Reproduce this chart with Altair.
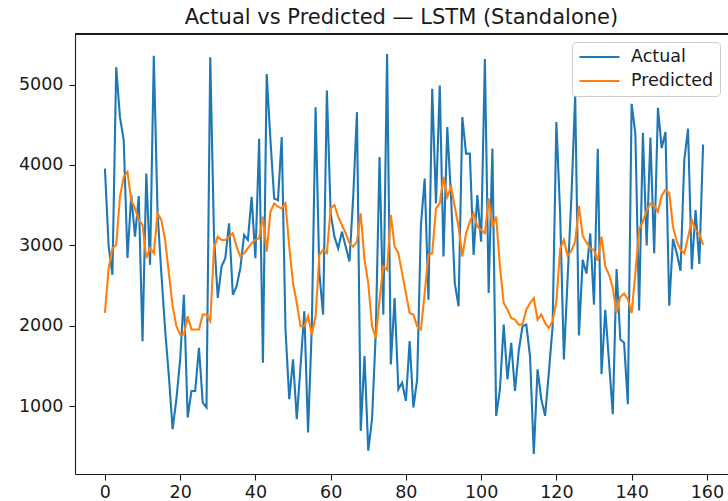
import altair as alt
import pandas as pd

title_text = "Actual vs Predicted — LSTM (Standalone)"
series_names = ["Actual", "Predicted"]

actual = [
    3956, 2985, 2635, 5214, 4595, 4306, 2845, 3625, 3109, 3613,
    1809, 3894, 2758, 5359, 3398, 2655, 1954, 1376, 715, 1087,
    1582, 2387, 860, 1190, 1190, 1727, 1046, 984, 5339, 3109,
    2346, 2738, 2841, 3275, 2387, 2490, 2717, 3130, 3068, 3604,
    2841, 4327, 1541, 5132, 4307, 3584, 3563, 4348, 1954, 1087,
    1582, 839, 1500, 2180, 674, 1994, 4719, 2655, 2139, 4926,
    3398, 3109, 2965, 3171, 2985, 2800, 3604, 4657, 694, 1623,
    447, 839, 1912, 4100, 2139, 5380, 1520, 2346, 1211, 1293,
    1067, 1809, 984, 1334, 3254, 3832, 2325, 4947, 3522, 4988,
    2862, 4472, 3604, 2531, 2242, 4595, 4141, 4141, 2882, 3625,
    3047, 5318, 2408, 4203, 880, 1211, 2015, 1334, 1789, 1190,
    1690, 1994, 2015, 1623, 406, 1458, 1087, 880, 1417, 1994,
    4533, 3400, 1582, 2600, 3600, 4860, 1880, 2820, 2650, 3151,
    2263, 4203, 1400, 2200, 1550, 901, 2705, 1830, 1789, 1025,
    4761, 4390, 2190, 4400, 3000, 4340, 2903, 4710, 4210, 4410,
    2250, 3080, 2903, 2685, 4059, 4451, 2705, 3440, 2770, 4255,
]

predicted = [
    2160, 2717, 2965, 3006, 3604, 3852, 3914, 3563, 3460, 3316,
    3254, 2841, 2965, 2903, 3398, 3316, 3068, 2655, 2242, 1994,
    1892, 1892, 2118, 1954, 1954, 1954, 2139, 2139, 2057, 2965,
    3109, 3068, 3068, 3109, 3151, 2985, 2862, 2903, 2965, 3027,
    3068, 3089, 3357, 2923, 3419, 3522, 3481, 3460, 3522, 2985,
    2531, 2284, 1994, 1994, 2118, 1892, 2118, 2882, 2944, 2903,
    3460, 3502, 3357, 3254, 3151, 3027, 2985, 3047, 3398, 2820,
    2531, 1994, 1850, 2325, 2738, 2697, 3378, 2985, 2903, 2655,
    2408, 2160, 2139, 1994, 1954, 2408, 2882, 2903, 3460, 3522,
    3852, 3604, 3728, 3481, 3233, 2862, 3151, 3295, 3398, 3233,
    3192, 3151, 3584, 3233, 3357, 2738, 2284, 2201, 2098, 2077,
    2015, 2015, 2201, 2284, 2346, 2077, 2139, 2036, 1974, 2057,
    2300, 2960, 3068, 2870, 2935, 3048, 3490, 3120, 3037, 2965,
    2944, 2810, 3109, 2738, 2635, 2470, 2160, 2360, 2400, 2330,
    2160, 2655, 3200, 3300, 3430, 3520, 3500, 3420, 3620, 3690,
    3650, 3230, 3050, 2944, 2903, 3100, 3316, 3192, 3151, 3006,
]

x_ticks = [0, 20, 40, 60, 80, 100, 120, 140, 160]
y_ticks = [1000, 2000, 3000, 4000, 5000]

n = len(actual)
df = pd.DataFrame({
    "idx": list(range(n)) * 2,
    "value": actual + predicted,
    "series": [series_names[0]] * n + [series_names[1]] * n,
    "order": list(range(n)) * 2,
})

all_vals = actual + predicted
lo, hi = min(all_vals), max(all_vals)
span = hi - lo
y_dom = [lo - 0.05 * span, hi + 0.05 * span]
x_lo = -0.05 * (n - 1)

W, H = 653, 440
px_per_unit = (W + 5) / ((n - 1) * 1.1)
x_dom = [x_lo, x_lo + W / px_per_unit]

FONT = "DejaVu Sans"
INK = "#1a1a1a"

axis_common = dict(title=None, grid=False, tickSize=6,
                   labelFontSize=17.5, labelFont=FONT, labelColor=INK,
                   tickColor=INK, domainColor=INK, domainWidth=1.1, tickWidth=1.1,
                   format="d")

lines = alt.Chart(df).mark_line(strokeWidth=2.1, clip=True).encode(
    x=alt.X("idx:Q", scale=alt.Scale(domain=x_dom, nice=False, zero=False),
            axis=alt.Axis(values=x_ticks, labelFlush=False, labelPadding=3, **axis_common)),
    y=alt.Y("value:Q", scale=alt.Scale(domain=y_dom, nice=False, zero=False),
            axis=alt.Axis(values=y_ticks, labelPadding=6, **axis_common)),
    color=alt.Color("series:N",
                    scale=alt.Scale(domain=series_names, range=["#1f77b4", "#ff7f0e"]),
                    legend=alt.Legend(title=None, orient="none", legendX=497, legendY=8,
                                      symbolType="stroke", symbolStrokeWidth=2.2,
                                      symbolSize=1600, clipHeight=18,
                                      labelFontSize=17.5, labelFont=FONT,
                                      labelColor=INK, padding=6, rowPadding=6,
                                      strokeColor="#cccccc", fillColor="white",
                                      cornerRadius=4, labelOffset=10)),
    detail="series:N",
    order="order:Q",
)

top_border = alt.Chart(df).mark_rule(color=INK, strokeWidth=1.1).encode(
    y=alt.value(0), x=alt.value(0), x2=alt.value(W)
)

chart = alt.layer(lines, top_border).properties(
    width=W, height=H,
    title=alt.TitleParams(title_text, fontSize=21, font=FONT, fontWeight="normal",
                          color=INK, anchor="middle", offset=5),
    autosize=alt.AutoSizeParams(type="none"),
    padding={"left": 75, "top": 34, "right": 0, "bottom": 27},
).configure_view(stroke=None)

chart.save("out.html", embed_options={"renderer": "svg", "actions": False})
